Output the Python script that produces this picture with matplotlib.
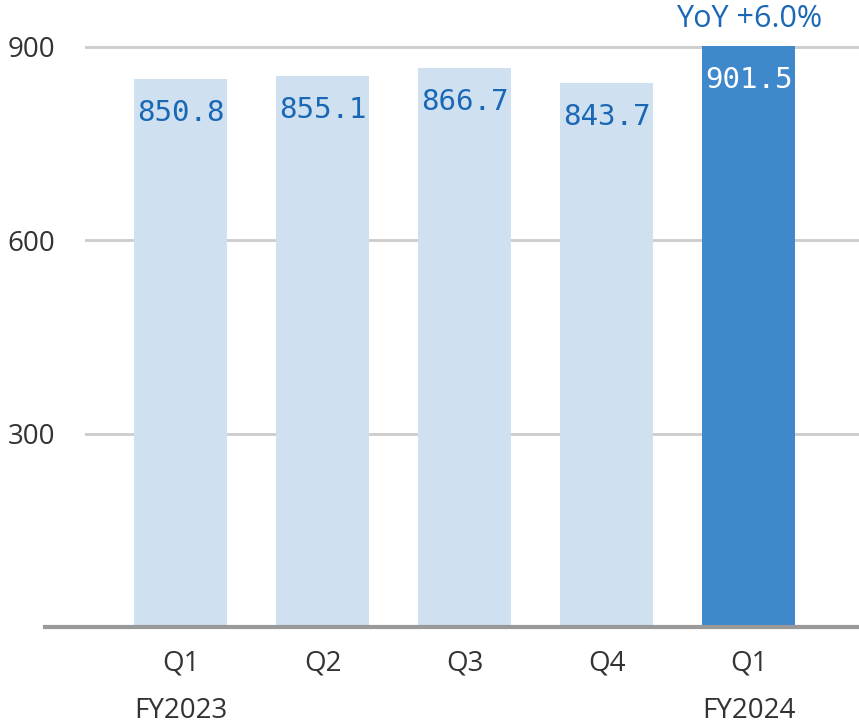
import matplotlib
matplotlib.use("Agg")
import matplotlib.pyplot as plt
import matplotlib.transforms as mtransforms

quarters = ["Q1", "Q2", "Q3", "Q4", "Q1"]
years = ["FY2023", "", "", "", "FY2024"]
values = [850.8, 855.1, 866.7, 843.7, 901.5]
colors = ["#cfe0f0", "#cfe0f0", "#cfe0f0", "#cfe0f0", "#3f88cc"]
label_colors = ["#1a68b5", "#1a68b5", "#1a68b5", "#1a68b5", "#ffffff"]
yticks = [300, 600, 900]
yoy_text = "YoY +6.0%"

fig = plt.figure(figsize=(8.59, 7.25), dpi=100)
bottom_px, top_px = 627, 8.3
ax = fig.add_axes([85 / 859, 1 - bottom_px / 725, 1 - 85 / 859, (bottom_px - top_px) / 725])

x = list(range(len(values)))
ax.bar(x, values, width=0.655, color=colors, zorder=2)
ax.set_xlim(-0.676, 4.775)
ax.set_ylim(0, 960)

for xi, v, c in zip(x, values, label_colors):
    ax.annotate(f"{v:.1f}", (xi, v), xytext=(0, -34), textcoords="offset pixels",
                ha="center", va="center", color=c, fontsize=21,
                fontfamily="DejaVu Sans Mono", zorder=3)

ax.annotate(yoy_text, (x[-1], values[-1]), xytext=(0, 27), textcoords="offset pixels",
            ha="center", va="center", color="#1a68b5", fontsize=22,
            fontfamily="Open Sans", zorder=3, annotation_clip=False)

ax.set_yticks(yticks)
ax.set_yticklabels([str(t) for t in yticks], family="Open Sans", fontsize=20, color="#333333")
ax.tick_params(axis="y", length=0, pad=21.5)
ax.set_xticks(x)
ax.set_xticklabels(quarters, family="Open Sans", fontsize=20, color="#333333")
ax.tick_params(axis="x", length=0, pad=16)

trans = mtransforms.blended_transform_factory(ax.transData, ax.transAxes)
for xi, yr in zip(x, years):
    if yr:
        ax.text(xi, -0.136, yr, transform=trans, ha="center", va="center",
                family="Open Sans", fontsize=20, color="#333333")

for t in yticks:
    ax.axhline(t, color="#cccccc", lw=2, zorder=1)

for s in ax.spines.values():
    s.set_visible(False)

fig.add_artist(plt.Line2D([45 / 859, 1], [1 - bottom_px / 725] * 2, color="#999999", lw=3,
                          transform=fig.transFigure, zorder=5))

fig.savefig("out.png", dpi=100)
